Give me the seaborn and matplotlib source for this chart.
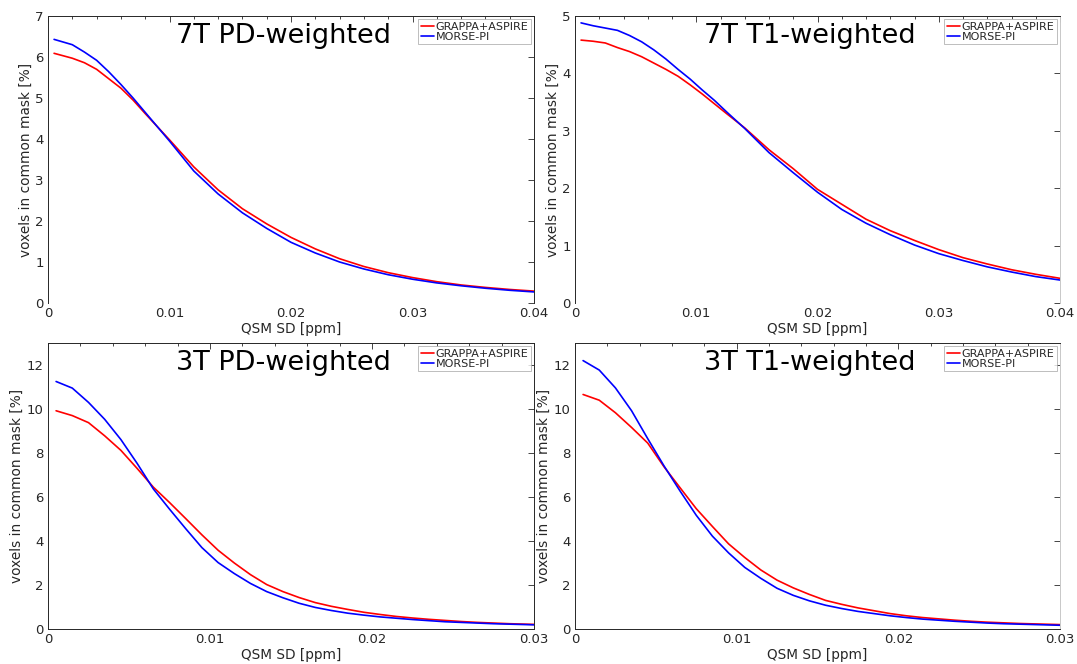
import matplotlib
matplotlib.use("Agg")
import matplotlib.pyplot as plt
import seaborn as sns
import pandas as pd
from matplotlib.ticker import MultipleLocator, FuncFormatter

# 7T PD-weighted
x_7t_pd = [0.0005, 0.002, 0.003, 0.004, 0.005, 0.006, 0.007, 0.008, 0.009, 0.010,
           0.012, 0.014, 0.016, 0.018, 0.020, 0.022, 0.024, 0.026, 0.028, 0.030,
           0.032, 0.034, 0.036, 0.038, 0.040]
grappa_7t_pd = [6.09, 5.97, 5.86, 5.7, 5.47, 5.24, 4.95, 4.62, 4.3, 3.98,
                3.32, 2.76, 2.3, 1.93, 1.6, 1.32, 1.08, 0.89, 0.74, 0.62,
                0.52, 0.44, 0.38, 0.33, 0.29]
morse_7t_pd = [6.43, 6.3, 6.12, 5.92, 5.64, 5.33, 5.0, 4.65, 4.3, 3.95,
               3.22, 2.66, 2.2, 1.82, 1.48, 1.22, 1.0, 0.83, 0.69, 0.58,
               0.49, 0.42, 0.36, 0.31, 0.27]

# 7T T1-weighted
x_7t_t1 = [0.0005, 0.0015, 0.0025, 0.0035, 0.0045, 0.0055, 0.0065, 0.0075, 0.0085,
           0.0095, 0.0105, 0.0115, 0.0125, 0.014, 0.016, 0.018, 0.020, 0.022,
           0.024, 0.026, 0.028, 0.030, 0.032, 0.034, 0.036, 0.038, 0.040]
grappa_7t_t1 = [4.58, 4.56, 4.53, 4.45, 4.38, 4.29, 4.18, 4.07, 3.95,
                3.8, 3.64, 3.47, 3.3, 3.05, 2.67, 2.34, 1.98, 1.72,
                1.46, 1.26, 1.09, 0.93, 0.79, 0.68, 0.58, 0.5, 0.43]
morse_7t_t1 = [4.88, 4.83, 4.79, 4.75, 4.66, 4.55, 4.41, 4.25, 4.07,
               3.9, 3.71, 3.53, 3.33, 3.04, 2.62, 2.27, 1.93, 1.63,
               1.39, 1.19, 1.01, 0.86, 0.74, 0.63, 0.54, 0.46, 0.4]

# 3T (both contrasts share the same bins)
x_3t = [0.0005, 0.0015, 0.0025, 0.0035, 0.0045, 0.0055, 0.0065, 0.0075, 0.0085, 0.0095,
        0.0105, 0.0115, 0.0125, 0.0135, 0.0145, 0.0155, 0.0165, 0.0175, 0.0185, 0.0195,
        0.0205, 0.0215, 0.0225, 0.0235, 0.0245, 0.0255, 0.0265, 0.0275, 0.0285, 0.0295,
        0.030]
grappa_3t_pd = [9.92, 9.7, 9.38, 8.78, 8.12, 7.3, 6.45, 5.75, 5.02, 4.28,
                3.58, 3.0, 2.47, 2.02, 1.7, 1.43, 1.2, 1.03, 0.89, 0.76,
                0.66, 0.57, 0.5, 0.44, 0.39, 0.34, 0.3, 0.27, 0.24, 0.22,
                0.21]
morse_3t_pd = [11.25, 10.95, 10.3, 9.53, 8.61, 7.53, 6.37, 5.45, 4.56, 3.7,
               3.02, 2.52, 2.07, 1.7, 1.42, 1.17, 0.98, 0.84, 0.72, 0.63,
               0.55, 0.49, 0.43, 0.38, 0.33, 0.3, 0.27, 0.24, 0.22, 0.2,
               0.19]
grappa_3t_t1 = [10.66, 10.4, 9.83, 9.16, 8.45, 7.38, 6.42, 5.47, 4.66, 3.87,
                3.25, 2.68, 2.22, 1.87, 1.57, 1.3, 1.12, 0.96, 0.83, 0.7,
                0.6, 0.52, 0.46, 0.4, 0.35, 0.31, 0.28, 0.25, 0.23, 0.21,
                0.2]
morse_3t_t1 = [12.2, 11.77, 10.96, 9.92, 8.65, 7.42, 6.27, 5.17, 4.22, 3.46,
               2.8, 2.3, 1.85, 1.53, 1.28, 1.08, 0.93, 0.8, 0.7, 0.6,
               0.52, 0.45, 0.4, 0.35, 0.31, 0.27, 0.24, 0.22, 0.2, 0.18,
               0.17]

panels = [
    ("7T PD-weighted", x_7t_pd, grappa_7t_pd, morse_7t_pd, 0.04, 7, 1),
    ("7T T1-weighted", x_7t_t1, grappa_7t_t1, morse_7t_t1, 0.04, 5, 1),
    ("3T PD-weighted", x_3t, grappa_3t_pd, morse_3t_pd, 0.03, 13, 2),
    ("3T T1-weighted", x_3t, grappa_3t_t1, morse_3t_t1, 0.03, 13, 2),
]

sns.set_theme(style="white")
plt.rcParams["font.family"] = ["DejaVu Sans"]

W, H = 1077, 664
fig = plt.figure(figsize=(W / 100, H / 100), dpi=100)

# axes boxes in pixels: left, top, right, bottom
boxes = [(48, 16, 534, 303), (575, 16, 1060, 303),
         (48, 343, 534, 629), (575, 343, 1060, 629)]

dark = "#262626"
for i, ((title, xs, grappa, morse, xmax, ymax, ystep), (l, t, r, b)) in enumerate(zip(panels, boxes)):
    ax = fig.add_axes([l / W, 1 - b / H, (r - l) / W, (b - t) / H])
    df = pd.DataFrame({
        "x": list(xs) * 2,
        "y": list(grappa) + list(morse),
        "method": ["GRAPPA+ASPIRE"] * len(xs) + ["MORSE-PI"] * len(xs),
    })
    sns.lineplot(data=df, x="x", y="y", hue="method",
                 palette={"GRAPPA+ASPIRE": "#ff0000", "MORSE-PI": "#0000ff"},
                 linewidth=1.2, ax=ax)
    ax.set_xlim(0, xmax)
    ax.set_ylim(0, ymax)
    ax.xaxis.set_major_locator(MultipleLocator(0.01))
    ax.xaxis.set_minor_locator(MultipleLocator(0.002))
    ax.yaxis.set_major_locator(MultipleLocator(ystep))
    ax.xaxis.set_major_formatter(FuncFormatter(lambda v, p: f"{v:g}"))
    ax.tick_params(which="both", direction="in", top=True, right=True,
                   colors=dark, labelsize=9.5, pad=3)
    ax.tick_params(which="major", length=4, width=0.6)
    ax.tick_params(which="minor", length=2.5, width=0.6)
    for side, sp in ax.spines.items():
        sp.set_linewidth(0.7)
        sp.set_color(dark)
    if i % 2 == 1:
        ax.spines["right"].set_color("#c8c8c8")
    if i < 2:
        # the top row shows no bottom axis line, only its ticks
        ax.spines["bottom"].set_visible(False)
    ax.set_xlabel("QSM SD [ppm]", fontsize=9.8, color=dark, labelpad=1)
    ax.set_ylabel("voxels in common mask [%]", fontsize=9.8, color=dark, labelpad=2)
    ax.text(0.484, 0.93, title, transform=ax.transAxes, ha="center", va="center",
            fontsize=19.5, color="black")
    leg = ax.legend(loc="upper right", fontsize=8, frameon=True, fancybox=False,
                    handlelength=1.2, handletextpad=0.15, borderpad=0.2,
                    labelspacing=0.05, borderaxespad=0.3, title=None)
    leg.get_frame().set_edgecolor("#a0a0a0")
    leg.get_frame().set_linewidth(0.6)

fig.savefig("out.png", dpi=100, facecolor="white")
